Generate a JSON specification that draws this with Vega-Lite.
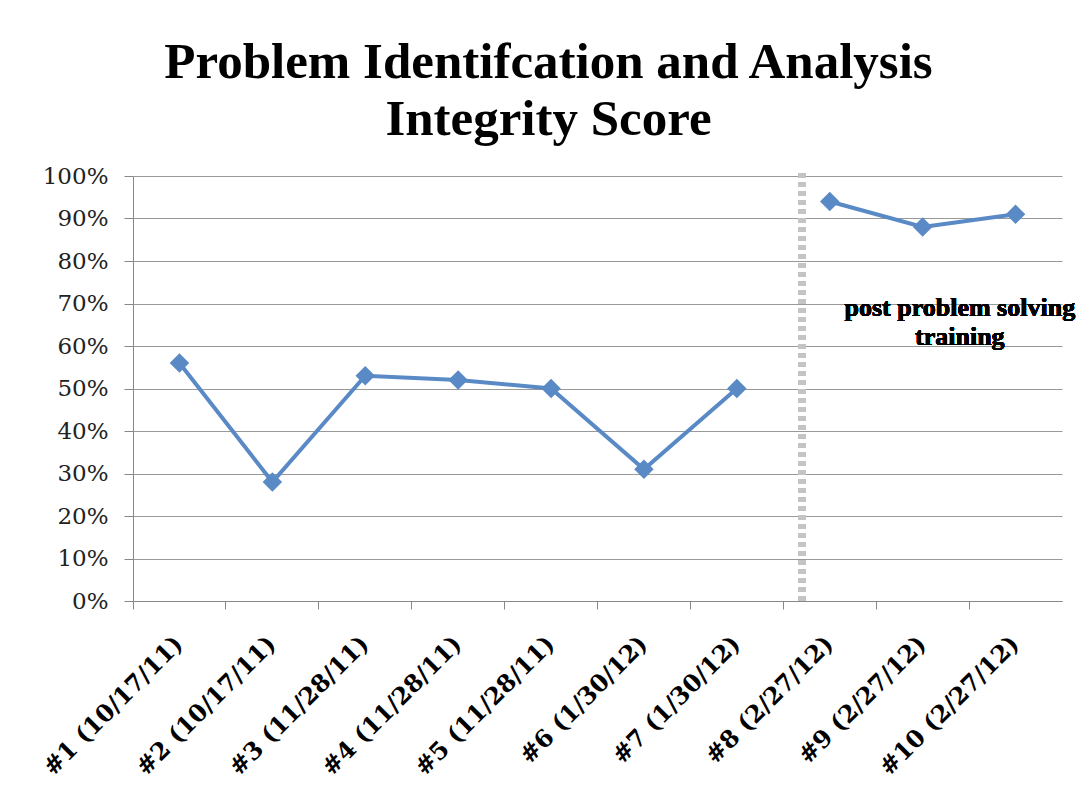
{
  "$schema": "https://vega.github.io/schema/vega-lite/v6.json",
  "width": 929,
  "height": 425,
  "autosize": {"type": "none"},
  "padding": {"left": 133, "top": 176, "right": 27, "bottom": 197},
  "background": "white",
  "config": {"view": {"stroke": null}},
  "title": {
    "text": ["Problem Identifcation and Analysis", "Integrity Score"],
    "font": "Liberation Serif",
    "fontSize": 51,
    "fontWeight": "bold",
    "color": "black",
    "anchor": "middle",
    "dx": -49,
    "offset": 19,
    "lineHeight": 57
  },
  "data": {
    "values": [
      {"session": "#1 (10/17/11)", "score": 0.56, "phase": "pre"},
      {"session": "#2 (10/17/11)", "score": 0.28, "phase": "pre"},
      {"session": "#3 (11/28/11)", "score": 0.53, "phase": "pre"},
      {"session": "#4 (11/28/11)", "score": 0.52, "phase": "pre"},
      {"session": "#5 (11/28/11)", "score": 0.50, "phase": "pre"},
      {"session": "#6 (1/30/12)", "score": 0.31, "phase": "pre"},
      {"session": "#7 (1/30/12)", "score": 0.50, "phase": "pre"},
      {"session": "#8 (2/27/12)", "score": 0.94, "phase": "post"},
      {"session": "#9 (2/27/12)", "score": 0.88, "phase": "post"},
      {"session": "#10 (2/27/12)", "score": 0.91, "phase": "post"}
    ]
  },
  "encoding": {
    "x": {
      "field": "session",
      "type": "ordinal",
      "sort": null,
      "scale": {
        "type": "band",
        "paddingInner": 0,
        "paddingOuter": 0,
        "domain": ["#1 (10/17/11)", "#2 (10/17/11)", "#3 (11/28/11)", "#4 (11/28/11)", "#5 (11/28/11)", "#6 (1/30/12)", "#7 (1/30/12)", "#8 (2/27/12)", "#9 (2/27/12)", "#10 (2/27/12)"]
      },
      "axis": {
        "title": null,
        "grid": false,
        "bandPosition": 0,
        "labelAngle": -45,
        "labelAlign": "right",
        "labelBaseline": "middle",
        "labelFont": "DejaVu Serif",
        "labelFontWeight": "bold",
        "labelFontSize": 24,
        "labelColor": "black",
        "labelPadding": 31,
        "labelLimit": 400,
        "tickSize": 8,
        "tickColor": "#888888",
        "domainColor": "#888888"
      }
    },
    "y": {
      "field": "score",
      "type": "quantitative",
      "scale": {"domain": [0, 1]},
      "axis": {
        "title": null,
        "values": [0, 0.1, 0.2, 0.3, 0.4, 0.5, 0.6, 0.7, 0.8, 0.9, 1],
        "format": ".0%",
        "labelFont": "DejaVu Serif",
        "labelFontSize": 23,
        "labelColor": "#222222",
        "labelPadding": 16,
        "tickSize": 9,
        "tickColor": "#888888",
        "domainColor": "#888888",
        "gridColor": "#999999",
        "gridWidth": 1
      }
    }
  },
  "layer": [
    {
      "mark": {"type": "rule", "color": "#c4c4c4", "strokeWidth": 7, "strokeDash": [5, 4]},
      "encoding": {
        "x": {"datum": "#8 (2/27/12)", "bandPosition": 0.2},
        "y": {"datum": 0},
        "y2": {"datum": 1.01}
      }
    },
    {
      "mark": {"type": "line", "color": "#5A8AC6", "strokeWidth": 4},
      "encoding": {"detail": {"field": "phase"}}
    },
    {
      "mark": {"type": "point", "shape": "diamond", "filled": true, "color": "#5A8AC6", "opacity": 1, "size": 380}
    },
    {
      "mark": {
        "type": "text",
        "text": ["post problem solving", "training"],
        "font": "Liberation Serif",
        "fontWeight": "bold",
        "fontSize": 26,
        "color": "black",
        "align": "center",
        "baseline": "middle",
        "lineHeight": 29
      },
      "encoding": {
        "x": {"datum": "#9 (2/27/12)", "bandPosition": 0.9},
        "y": {"datum": 0.69}
      }
    }
  ]
}
